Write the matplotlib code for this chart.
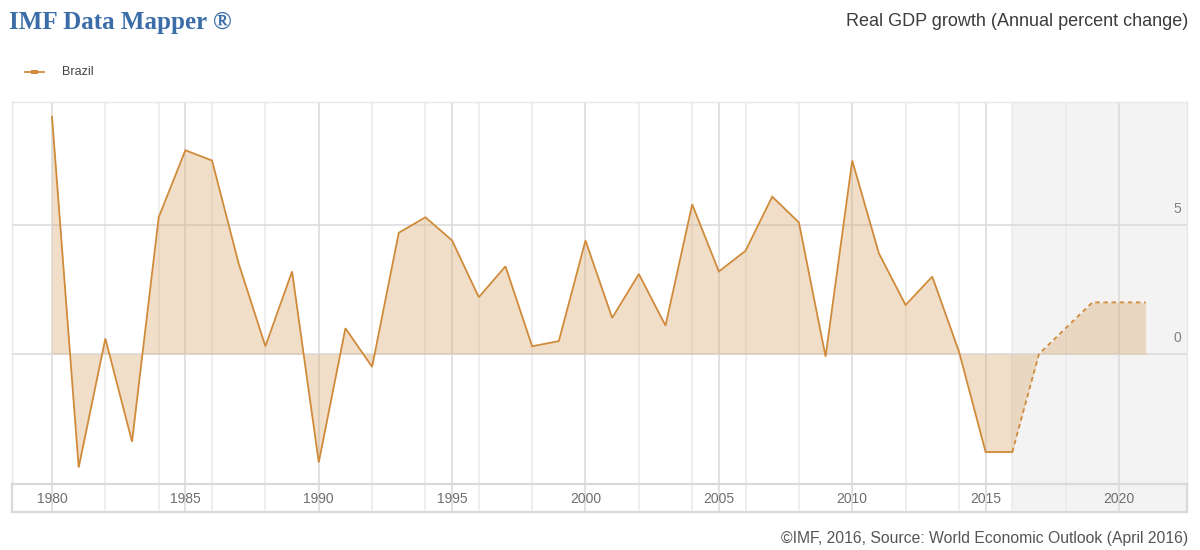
import matplotlib.pyplot as plt
import numpy as np

# ------------------------------------------------------------------------------
#   Data: Brazil, real GDP growth (annual percent change), WEO April 2016
# ------------------------------------------------------------------------------
years = list(range(1980, 2022))
growth = [
    9.2, -4.4, 0.6, -3.4, 5.3, 7.9, 7.5, 3.5, 0.3, 3.2,
    -4.2, 1.0, -0.5, 4.7, 5.3, 4.4, 2.2, 3.4, 0.3, 0.5,
    4.4, 1.4, 3.1, 1.1, 5.8, 3.2, 4.0, 6.1, 5.1, -0.1,
    7.5, 3.9, 1.9, 3.0, 0.1, -3.8, -3.8, 0.0, 1.0, 2.0,
    2.0, 2.0,
]
projection_start = 2016
country = "Brazil"
tick_years = [1980, 1985, 1990, 1995, 2000, 2005, 2010, 2015, 2020]
y_ticks = [0, 5]

title_left = "IMF Data Mapper \u00ae"
title_right = "Real GDP growth (Annual percent change)"
footer = "\u00a9IMF, 2016, Source: World Economic Outlook (April 2016)"

# ------------------------------------------------------------------------------
#   Layout
# ------------------------------------------------------------------------------
W, H = 1200, 550
line_color = "#d08b3a"
fill_color = "#d9aa73"
grid_minor = "#ebebeb"
grid_major = "#dcdcdc"
shade_color = "#f3f3f3"
xlim = (1978.5, 2022.55)

fig = plt.figure(figsize=(W / 100, H / 100), dpi=100)
fig.patch.set_facecolor("white")


def fx(px):
    return px / W


def fy(py):
    return 1 - py / H


ax = fig.add_axes([fx(12), fy(484), fx(1187 - 12), fy(102) - fy(484)])
band = fig.add_axes([fx(12), fy(512), fx(1187 - 12), fy(484) - fy(512)])

for a in (ax, band):
    a.set_xlim(*xlim)
    a.set_xticks([])
    a.set_yticks([])
    a.axvspan(projection_start, xlim[1], color=shade_color, lw=0, zorder=0)
    for yr in range(1980, 2022):
        if yr % 5 == 0:
            a.axvline(yr, color=grid_major, lw=1.2, zorder=1)
        elif yr % 2 == 0:
            a.axvline(yr, color=grid_minor, lw=1.2, zorder=1)

ax.set_ylim(-5.04, 9.77)
for spine in ax.spines.values():
    spine.set_color("#e8e8e8")
    spine.set_linewidth(1.0)
for spine in band.spines.values():
    spine.set_color("#d9d9d9")
    spine.set_linewidth(1.6)

for yv in y_ticks:
    ax.axhline(yv, color=grid_major, lw=1.2, zorder=1)
    ax.text(2022.35, yv + 0.35, str(yv), ha="right", va="bottom",
            fontsize=10, color="#808080", family="Liberation Sans")

x = np.array(years)
y = np.array(growth)
hist = x <= projection_start
proj = x >= projection_start

ax.fill_between(x, y, 0, color=fill_color, alpha=0.38, lw=0, zorder=2)
ax.plot(x[hist], y[hist], color=line_color, lw=1.3, zorder=3,
        solid_joinstyle="miter")
ax.plot(x[proj], y[proj], color=line_color, lw=1.3, ls=(0, (2.5, 2)),
        zorder=3)

band.set_ylim(0, 1)
for yr in tick_years:
    band.text(yr, 0.45, str(yr), ha="center", va="center", fontsize=10,
              color="#6e6e6e", family="Liberation Sans")

# Titles, legend, footer
fig.text(fx(9), fy(22), title_left, ha="left", va="center", fontsize=18,
         fontweight="bold", color="#3b6ea8", family="Liberation Serif")
fig.text(fx(1188), fy(22), title_right, ha="right", va="center",
         fontsize=13, color="#3c3c3c", family="Liberation Sans")
fig.text(fx(1188), fy(538), footer, ha="right", va="center",
         fontsize=11.3, color="#555555", family="Liberation Sans")

fig.add_artist(plt.Line2D([fx(25), fx(44)], [fy(72), fy(72)],
                          color=line_color, lw=1.3))
fig.add_artist(plt.Rectangle((fx(31), fy(74)), fx(7), fy(70) - fy(74),
                             color=line_color, lw=0))
fig.text(fx(62), fy(72), country, ha="left", va="center", fontsize=9,
         color="#444444", family="Liberation Sans")

fig.savefig("out.png", dpi=100, facecolor="white")
